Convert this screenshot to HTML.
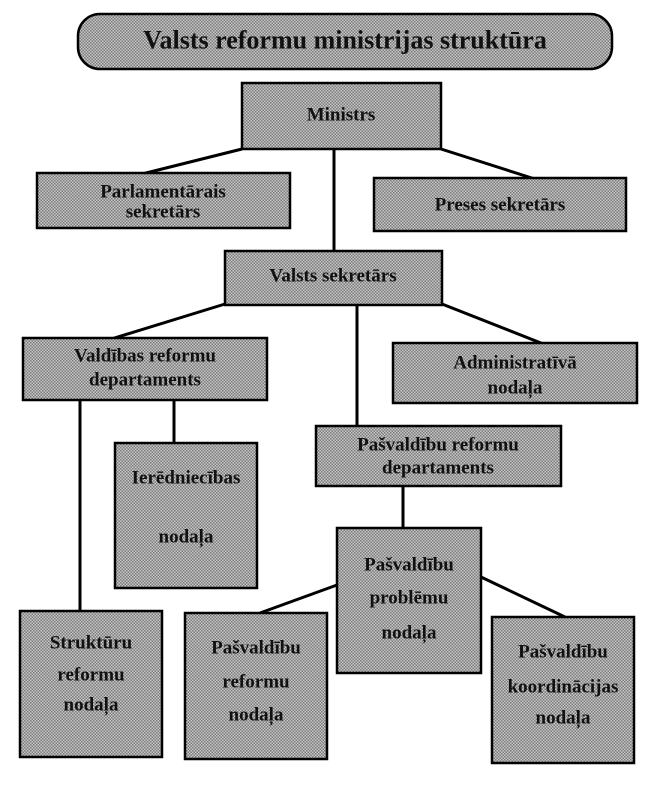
<!DOCTYPE html>
<html><head><meta charset="utf-8"><style>
html,body{margin:0;padding:0;background:#fff;}
svg{display:block;}
svg text{font-family:'Liberation Serif','DejaVu Serif',serif;font-weight:bold;font-size:19px;fill:#111;text-anchor:middle;dominant-baseline:central;}
</style></head><body>
<svg width="645" height="789" viewBox="0 0 645 789" xmlns="http://www.w3.org/2000/svg" font-family="Liberation Serif, serif">
<defs>
<pattern id="ht" width="3" height="3" patternUnits="userSpaceOnUse">
<rect width="3" height="3" fill="#c8c8c8"/>
<rect width="1.5" height="1.5" fill="#7a7a7a"/>
<rect x="1.5" y="1.5" width="1.5" height="1.5" fill="#7a7a7a"/>
</pattern>
</defs>
<g stroke="#000" stroke-width="3" fill="none">
<line x1="334" y1="149" x2="334" y2="251"/>
<line x1="242" y1="149" x2="142" y2="174"/>
<line x1="441" y1="149" x2="538" y2="180"/>
<line x1="225" y1="304" x2="108" y2="340"/>
<line x1="442" y1="304" x2="546" y2="345"/>
<line x1="357" y1="305" x2="357" y2="426"/>
<line x1="80" y1="400" x2="80" y2="611"/>
<line x1="174" y1="400" x2="174" y2="443"/>
<line x1="403" y1="486" x2="403" y2="528"/>
<line x1="337" y1="585" x2="260" y2="613"/>
<line x1="481" y1="577" x2="565" y2="617"/>
</g>
<g fill="url(#ht)" stroke="#000" stroke-width="2.5">
<rect x="78" y="14" width="534" height="55" rx="22"/>
<rect x="242" y="83" width="199" height="66"/>
<rect x="37" y="173" width="253" height="55"/>
<rect x="374" y="178" width="252" height="53"/>
<rect x="225" y="251" width="217" height="54"/>
<rect x="23" y="338" width="244" height="62"/>
<rect x="393" y="343" width="244" height="60"/>
<rect x="316" y="426" width="245" height="60"/>
<rect x="115" y="443" width="142" height="145"/>
<rect x="337" y="528" width="144" height="145"/>
<rect x="20" y="611" width="142" height="146"/>
<rect x="185" y="613" width="142" height="146"/>
<rect x="492" y="617" width="142" height="146"/>
</g>
<g font-family="Liberation Serif, serif" font-weight="bold">
<text x="345" y="40" style="font-size:26px">Valsts reformu ministrijas struktūra</text>
<text x="341" y="115">Ministrs</text>
<text x="163" y="192">Parlamentārais</text>
<text x="163" y="212">sekretārs</text>
<text x="500" y="205">Preses sekretārs</text>
<text x="333" y="276">Valsts sekretārs</text>
<text x="145" y="356">Valdības reformu</text>
<text x="145" y="380">departaments</text>
<text x="515" y="363">Administratīvā</text>
<text x="515" y="388">nodaļa</text>
<text x="438" y="445">Pašvaldību reformu</text>
<text x="438" y="468">departaments</text>
<text x="186" y="478">Ierēdniecības</text>
<text x="186" y="537">nodaļa</text>
<text x="409" y="565">Pašvaldību</text>
<text x="409" y="598">problēmu</text>
<text x="409" y="633">nodaļa</text>
<text x="91" y="643">Struktūru</text>
<text x="91" y="675">reformu</text>
<text x="91" y="705">nodaļa</text>
<text x="256" y="648">Pašvaldību</text>
<text x="256" y="682">reformu</text>
<text x="256" y="715">nodaļa</text>
<text x="563" y="652">Pašvaldību</text>
<text x="563" y="687">koordinācijas</text>
<text x="563" y="718">nodaļa</text>
</g>
</svg>
</body></html>
